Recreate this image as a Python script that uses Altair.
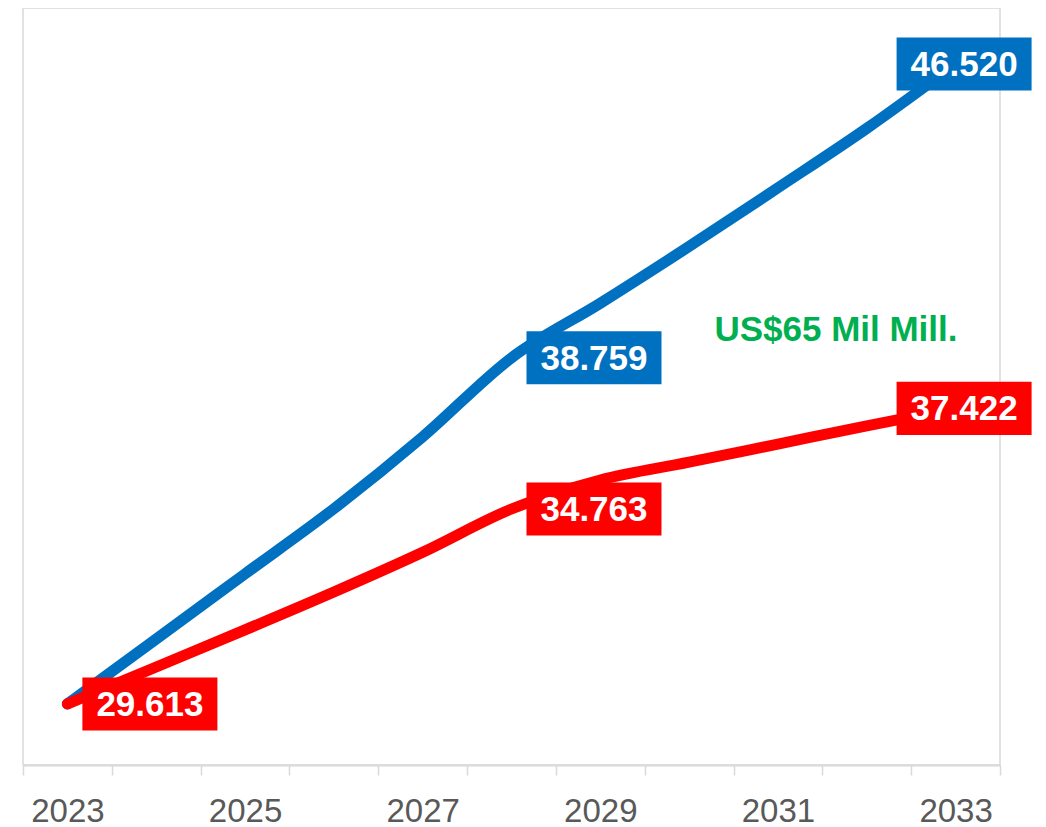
import altair as alt
import pandas as pd

# ---- data ----
years = [str(y) for y in range(2023, 2034)]
blue_values = [29.613, 31.33, 33.05, 34.77, 36.67, 38.759, 40.2, 41.7, 43.25, 44.82, 46.520]
red_values = [29.613, 30.59, 31.57, 32.57, 33.62, 34.763, 35.53, 36.0, 36.48, 36.96, 37.422]

label_years = ["2023", "2028", "2028", "2033", "2033"]
label_values = [29.613, 38.759, 34.763, 46.520, 37.422]
label_texts = ["29.613", "38.759", "34.763", "46.520", "37.422"]
label_series = ["red", "blue", "red", "blue", "red"]
label_end = [False, False, False, True, True]

note_text = ["US$65 Mil Mill."]
note_year = ["2031"]
note_value = [39.5]

BLUE = "#0070C0"
RED = "#FF0000"
GREEN = "#00B050"
GRID = "#D9D9D9"
FONT = "Liberation Sans"

blue_df = pd.DataFrame({"year": years, "value": blue_values})
red_df = pd.DataFrame({"year": years, "value": red_values})
lab_df = pd.DataFrame({"year": label_years, "value": label_values, "text": label_texts,
                       "series": label_series, "end": label_end})
note_df = pd.DataFrame({"year": note_year, "value": note_value, "text": note_text})

xscale = alt.Scale(type="band", domain=years, paddingInner=0, paddingOuter=0)
yscale = alt.Scale(domain=[28, 48], nice=False, zero=False)

x_axis = alt.Axis(title=None, tickBand="extent", labelAngle=0, labelOverlap=False,
                  labelExpr="parseInt(datum.value) % 2 == 1 ? datum.value : ''",
                  labelFontSize=33, labelFont=FONT, labelColor="#595959",
                  tickColor=GRID, tickSize=10, tickWidth=1.5,
                  domainColor=GRID, domainWidth=2, labelPadding=20, grid=False)

X = alt.X("year:O", scale=xscale, axis=x_axis, bandPosition=0.5)
Xn = alt.X("year:O", scale=xscale, bandPosition=0.5)
Y = alt.Y("value:Q", scale=yscale, axis=None)

blue_line = alt.Chart(blue_df).mark_line(color=BLUE, strokeWidth=11, interpolate="monotone",
                                         strokeCap="round").encode(x=X, y=Y)
red_line = alt.Chart(red_df).mark_line(color=RED, strokeWidth=11, interpolate="monotone",
                                       strokeCap="round").encode(x=Xn, y=Y)

series_color = alt.Color("series:N", scale=alt.Scale(domain=["blue", "red"], range=[BLUE, RED]), legend=None)

box_mid = "M0.222,-0.393L2.222,-0.393L2.222,0.393L0.222,0.393Z"
box_end = "M-0.874,-0.393L1.126,-0.393L1.126,0.393L-0.874,0.393Z"

mid_base = alt.Chart(lab_df).transform_filter("!datum.end")
end_base = alt.Chart(lab_df).transform_filter("datum.end")

mid_box = mid_base.mark_point(shape=box_mid, size=18225, filled=True, opacity=1, strokeWidth=0).encode(
    x=Xn, y=Y, color=series_color)
end_box = end_base.mark_point(shape=box_end, size=18225, filled=True, opacity=1, strokeWidth=0).encode(
    x=Xn, y=Y, color=series_color)

mid_text = mid_base.mark_text(color="white", font=FONT, fontWeight="bold", fontSize=35,
                              align="center", baseline="middle", dx=82.5, dy=1).encode(
    x=Xn, y=Y, text="text:N")
end_text = end_base.mark_text(color="white", font=FONT, fontWeight="bold", fontSize=35,
                              align="center", baseline="middle", dx=8.5, dy=1).encode(
    x=Xn, y=Y, text="text:N")

note = alt.Chart(note_df).mark_text(color=GREEN, font=FONT, fontWeight="bold", fontSize=35,
                                    align="center", baseline="middle", dx=58).encode(
    x=Xn, y=Y, text="text:N")

chart = alt.layer(blue_line, red_line, mid_box, end_box, mid_text, end_text, note).properties(
    width=977, height=757,
    padding={"left": 14, "top": 0, "right": 5, "bottom": 0},
    background="white",
).configure_view(stroke=GRID, strokeWidth=1.5)

chart.save("out.html", embed_options={"renderer": "svg", "actions": False})
